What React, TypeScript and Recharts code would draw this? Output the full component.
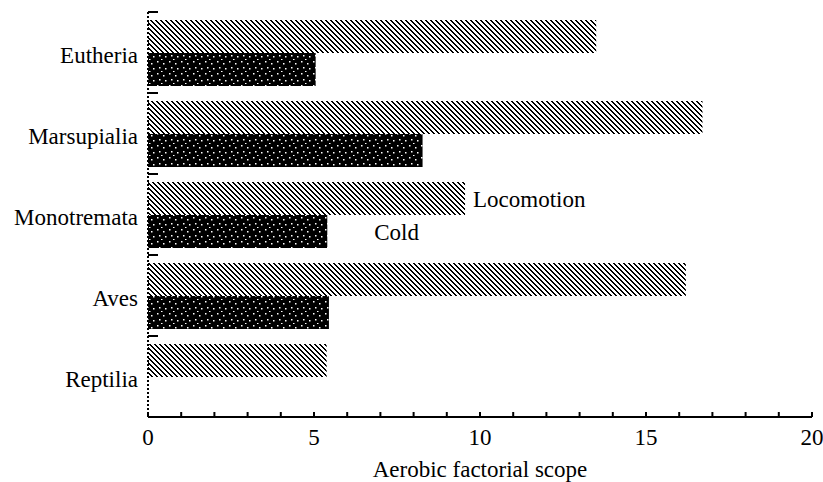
import React from 'react';
import { BarChart, Bar, XAxis, YAxis, LabelList } from 'recharts';

const categories = ['Eutheria', 'Marsupialia', 'Monotremata', 'Aves', 'Reptilia'];
const locomotionValues = [13.5, 16.7, 9.55, 16.2, 5.38];
const coldValues: (number | null)[] = [5.05, 8.27, 5.4, 5.45, null];
const xTicks = [0, 1, 2, 3, 4, 5, 6, 7, 8, 9, 10, 11, 12, 13, 14, 15, 16, 17, 18, 19, 20];
const xTickLabels = [0, 5, 10, 15, 20];
const seriesNames = ['Locomotion', 'Cold'];
const annotatedCategory = 'Monotremata';
const xAxisTitle = 'Aerobic factorial scope';

const FONT = '"Liberation Serif", "Times New Roman", serif';
const FS = 23;

const data = categories.map((name, i) => ({
  name,
  locomotion: locomotionValues[i],
  cold: coldValues[i],
  locLabel: name === annotatedCategory ? seriesNames[0] : null,
  coldLabel: name === annotatedCategory ? seriesNames[1] : null,
}));

const XTick = (props: any) => {
  const { x, y, payload } = props;
  const v = payload.value;
  return (
    <g>
      <line x1={x} x2={x} y1={y} y2={y - 5} stroke="#000" strokeWidth={2} />
      {xTickLabels.includes(v) ? (
        <text x={x} y={y + 28} textAnchor="middle" fontFamily={FONT} fontSize={FS} fill="#000">
          {v}
        </text>
      ) : null}
    </g>
  );
};

const YTick = (props: any) => {
  const { x, y, payload } = props;
  const axisX = x + 10;
  return (
    <g>
      <line x1={axisX} x2={axisX + 10} y1={y - 40.5} y2={y - 40.5} stroke="#000" strokeWidth={2} />
      <text x={x} y={y + 10} textAnchor="end" fontFamily={FONT} fontSize={FS} fill="#000">
        {payload.value}
      </text>
    </g>
  );
};

const makeLabel = (offset: number) => (p: any) => {
  if (!p.value) return null;
  const vb = p.viewBox || p;
  return (
    <text
      x={vb.x + vb.width + offset}
      y={vb.y + vb.height / 2 + 8}
      textAnchor="start"
      fontFamily={FONT}
      fontSize={FS}
      fill="#000"
    >
      {p.value}
    </text>
  );
};

export default function App() {
  return (
    <div style={{ position: 'absolute', left: 0, top: 0, background: '#fff' }}>
      <BarChart
        width={823}
        height={482}
        data={data}
        layout="vertical"
        margin={{ top: 12, right: 11, bottom: 0, left: 0 }}
        barCategoryGap={8}
        barGap={0}
      >
        <defs>
          <pattern id="hatch" width="5" height="5" patternUnits="userSpaceOnUse">
            <rect x="0" y="0" width="5" height="5" fill="#fff" />
            <rect x="0" y="0" width="2" height="1" fill="#000" />
            <rect x="1" y="1" width="2" height="1" fill="#000" />
            <rect x="2" y="2" width="2" height="1" fill="#000" />
            <rect x="3" y="3" width="2" height="1" fill="#000" />
            <rect x="4" y="4" width="1" height="1" fill="#000" />
            <rect x="0" y="4" width="1" height="1" fill="#000" />
          </pattern>
          <pattern id="dots" width="12" height="12" patternUnits="userSpaceOnUse">
            <rect x="0" y="0" width="12" height="12" fill="#000" />
            <rect x="1" y="1" width="1.5" height="1.5" fill="#fff" />
            <rect x="7" y="3" width="1.5" height="1.5" fill="#fff" />
            <rect x="3" y="7" width="1.5" height="1.5" fill="#fff" />
            <rect x="9" y="8" width="1.5" height="1.5" fill="#fff" />
            <rect x="5" y="11" width="1.5" height="1" fill="#fff" />
          </pattern>
        </defs>
        <XAxis
          type="number"
          domain={[0, 20]}
          ticks={xTicks}
          interval={0}
          tickSize={0}
          tickMargin={0}
          tickLine={false}
          tick={<XTick />}
          axisLine={{ stroke: '#000', strokeWidth: 2 }}
          height={65}
          label={{
            value: xAxisTitle,
            position: 'insideBottom',
            offset: 5,
            fill: '#000',
            fontFamily: FONT,
            fontSize: FS,
          }}
        />
        <YAxis
          type="category"
          dataKey="name"
          width={148}
          tickSize={0}
          tickMargin={10}
          tickLine={false}
          interval={0}
          tick={<YTick />}
          axisLine={{ stroke: '#000', strokeWidth: 2, strokeDasharray: '2 2' }}
        />
        <Bar dataKey="locomotion" name={seriesNames[0]} fill="url(#hatch)" isAnimationActive={false}>
          <LabelList dataKey="locLabel" content={makeLabel(8)} />
        </Bar>
        <Bar dataKey="cold" name={seriesNames[1]} fill="url(#dots)" isAnimationActive={false}>
          <LabelList dataKey="coldLabel" content={makeLabel(47)} />
        </Bar>
      </BarChart>
    </div>
  );
}
